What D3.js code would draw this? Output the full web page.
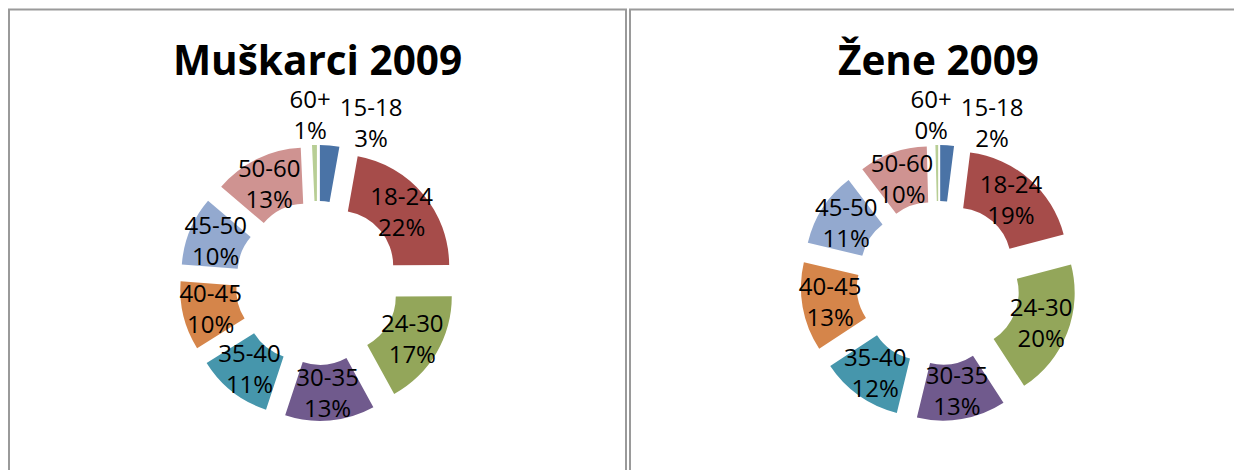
<!DOCTYPE html>
<html>
<head>
<meta charset="utf-8">
<script src="https://cdn.jsdelivr.net/npm/d3@7/dist/d3.min.js"></script>
<style>
  html, body { margin: 0; padding: 0; background: #fff; }
  svg { display: block; font-family: "Open Sans", sans-serif; }
</style>
</head>
<body>
<div id="chart"></div>
<script>
// =====================================
// DATA
// =====================================

const categories = ["15-18", "18-24", "24-30", "30-35", "35-40", "40-45", "45-50", "50-60", "60+"];
const menValues = [2.8, 22, 17, 13, 11, 10, 10, 13, 0.7];
const womenValues = [2, 19, 20, 13, 12, 13, 11, 10, 0.4];
const titles = ["Muškarci 2009", "Žene 2009"];

const colors = [
  "#4a73a6", "#a64c4a", "#93a65a", "#705a8d", "#4696ac",
  "#d5854a", "#93a9cf", "#cf9391", "#b8ce95"
];

// =====================================
// DIMENSIONS
// =====================================

const width = 1234;
const height = 470;

const panelX = [9, 630];
const panelWidth = 617;
const panelTop = 9.5;

const outerR = 111;
const innerR = 55;
const explode = 27;
const centerY = 283;
const lineGap = 31;

// small slices get their labels pulled out above the ring
const outsideLabels = { "15-18": { angle: 18.5, dist: 169 }, "60+": { angle: -2.5, dist: 168 } };

const svg = d3.select("#chart")
  .append("svg")
  .attr("width", width)
  .attr("height", height);

const pie = d3.pie().sort(null).value(d => d.value);
const arc = d3.arc().innerRadius(innerR).outerRadius(outerR);
const fmt = d3.format(".0%");

function drawPanel(values, title, x0) {

  const cx = x0 + panelWidth / 2;
  const g = svg.append("g");

  // border
  g.append("rect")
    .attr("x", x0)
    .attr("y", panelTop)
    .attr("width", panelWidth)
    .attr("height", height)
    .attr("fill", "none")
    .attr("stroke", "#9a9a9a")
    .attr("stroke-width", 2);

  // title
  g.append("text")
    .attr("x", cx)
    .attr("y", 75)
    .attr("text-anchor", "middle")
    .style("font-size", "40.5px")
    .style("font-weight", "700")
    .style("fill", "#000")
    .text(title);

  const total = d3.sum(values);
  const rows = categories.map((c, i) => ({ name: c, value: values[i], color: colors[i] }));
  const arcs = pie(rows);

  const donut = g.append("g")
    .attr("transform", `translate(${cx},${centerY})`);

  const slices = donut.selectAll(".slice")
    .data(arcs)
    .enter()
    .append("g")
    .attr("class", "slice")
    .attr("transform", d => {
      const mid = (d.startAngle + d.endAngle) / 2;
      return `translate(${Math.sin(mid) * explode},${-Math.cos(mid) * explode})`;
    });

  slices.append("path")
    .attr("d", arc)
    .attr("fill", d => d.data.color);

  // labels
  const labels = donut.selectAll(".label")
    .data(arcs)
    .enter()
    .append("text")
    .attr("class", "label")
    .attr("text-anchor", "middle")
    .style("font-size", "24px")
    .style("fill", "#000")
    .attr("transform", d => {
      const o = outsideLabels[d.data.name];
      if (o) {
        const a = o.angle * Math.PI / 180;
        return `translate(${Math.sin(a) * o.dist},${-Math.cos(a) * o.dist})`;
      }
      const mid = (d.startAngle + d.endAngle) / 2;
      const c = arc.centroid(d);
      return `translate(${c[0] + Math.sin(mid) * explode},${c[1] - Math.cos(mid) * explode})`;
    });

  labels.append("tspan")
    .attr("x", 0)
    .attr("y", -lineGap / 2 + 8.5)
    .text(d => d.data.name);

  labels.append("tspan")
    .attr("x", 0)
    .attr("y", lineGap / 2 + 8.5)
    .text(d => fmt(d.data.value / total));
}

drawPanel(menValues, titles[0], panelX[0]);
drawPanel(womenValues, titles[1], panelX[1]);
</script>
</body>
</html>
